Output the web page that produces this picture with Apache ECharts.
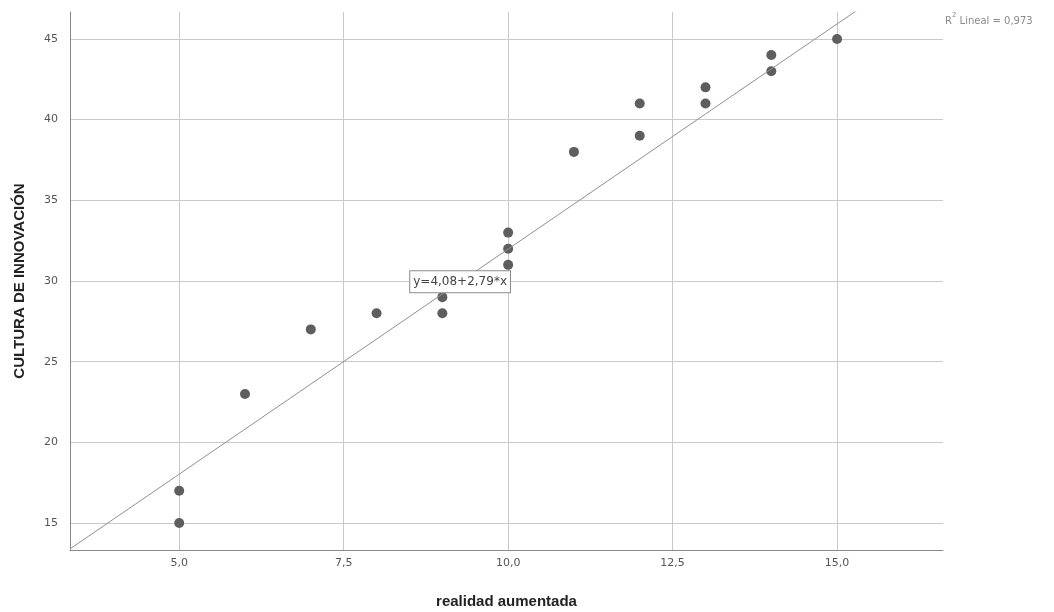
<!DOCTYPE html>
<html>
<head>
<meta charset="utf-8">
<script src="https://cdn.jsdelivr.net/npm/echarts@6/dist/echarts.min.js"></script>
<style>
  html, body { margin: 0; padding: 0; background: #fff; }
  #chart { width: 1054px; height: 612px; }
</style>
</head>
<body>
<div id="chart"></div>
<script>
// Observed cases
const realidadAumentada = [5, 5, 6, 7, 8, 9, 9, 10, 10, 10, 11, 12, 12, 13, 13, 14, 14, 15];
const culturaInnovacion = [15, 17, 23, 27, 28, 28, 29, 31, 32, 33, 38, 39, 41, 41, 42, 43, 44, 45];

// Fitted linear regression
const intercept = 4.08;
const slope = 2.79;
const rSquared = 0.973;

// Axis ranges and tick values
const xMin = 3.34, xMax = 16.61;
const yMin = 13.33, yMax = 46.67;
const xTicks = [5, 7.5, 10, 12.5, 15];
const yTicks = [15, 20, 25, 30, 35, 40, 45];
const equationAt = [9.27, 29.95];

const fmtComma = (v, d) => v.toFixed(d).replace('.', ',');

const points = realidadAumentada.map((x, i) => [x, culturaInnovacion[i]]);
const fitLine = [xMin, xMax].map(x => [x, intercept + slope * x]);

const chart = echarts.init(document.getElementById('chart'));
chart.setOption({
  animation: false,
  backgroundColor: '#fff',
  grid: { left: 70, right: 111, top: 12, bottom: 62, containLabel: false, outerBoundsMode: 'none' },
  xAxis: {
    type: 'value', min: xMin, max: xMax,
    name: 'realidad aumentada', nameLocation: 'middle', nameGap: 44,
    nameTextStyle: { fontFamily: 'Liberation Sans', fontWeight: 'bold', fontSize: 15, color: '#222' },
    axisLine: { lineStyle: { color: '#8a8a8a', width: 1 } },
    axisTick: { show: true, length: 0, customValues: xTicks },
    axisLabel: { customValues: xTicks, formatter: v => fmtComma(v, 1), color: '#555', fontFamily: 'DejaVu Sans', fontSize: 11, margin: 8 },
    splitLine: { show: true, lineStyle: { color: '#c9c9c9', width: 1 } }
  },
  yAxis: {
    type: 'value', min: yMin, max: yMax,
    name: 'CULTURA DE INNOVACIÓN', nameLocation: 'middle', nameGap: 43,
    nameTextStyle: { fontFamily: 'Liberation Sans', fontWeight: 'bold', fontSize: 15, color: '#222' },
    axisLine: { show: true, lineStyle: { color: '#8a8a8a', width: 1 } },
    axisTick: { show: true, length: 0, customValues: yTicks },
    axisLabel: { customValues: yTicks, formatter: v => String(v), color: '#555', fontFamily: 'DejaVu Sans', fontSize: 11, margin: 12 },
    splitLine: { show: true, lineStyle: { color: '#c9c9c9', width: 1 } }
  },
  series: [
    {
      type: 'line', data: fitLine, symbol: 'none', clip: true, silent: true,
      lineStyle: { color: '#8f8f8f', width: 1 },
      markPoint: {
        symbol: 'rect', symbolSize: 0,
        data: [{ coord: equationAt, value: 0 }],
        label: {
          show: true, position: 'inside',
          formatter: 'y=' + fmtComma(intercept, 2) + '+' + fmtComma(slope, 2) + '*x',
          color: '#444', fontFamily: 'DejaVu Sans', fontSize: 12,
          backgroundColor: '#fff', borderColor: '#8a8a8a', borderWidth: 1,
          padding: [5, 3, 4, 3]
        }
      }
    },
    {
      type: 'scatter', data: points, symbolSize: 10,
      itemStyle: { color: '#5e5e5e', opacity: 1 }
    }
  ],
  graphic: [{
    type: 'text', left: 945, top: 12,
    style: {
      text: '{r|R}{s|2}{r| Lineal = ' + fmtComma(rSquared, 3) + '}',
      rich: {
        r: { fill: '#8a8a8a', fontFamily: 'DejaVu Sans', fontSize: 10, verticalAlign: 'bottom', lineHeight: 14 },
        s: { fill: '#8a8a8a', fontFamily: 'DejaVu Sans', fontSize: 7, verticalAlign: 'top', lineHeight: 14 }
      }
    }
  }]
});
</script>
</body>
</html>
